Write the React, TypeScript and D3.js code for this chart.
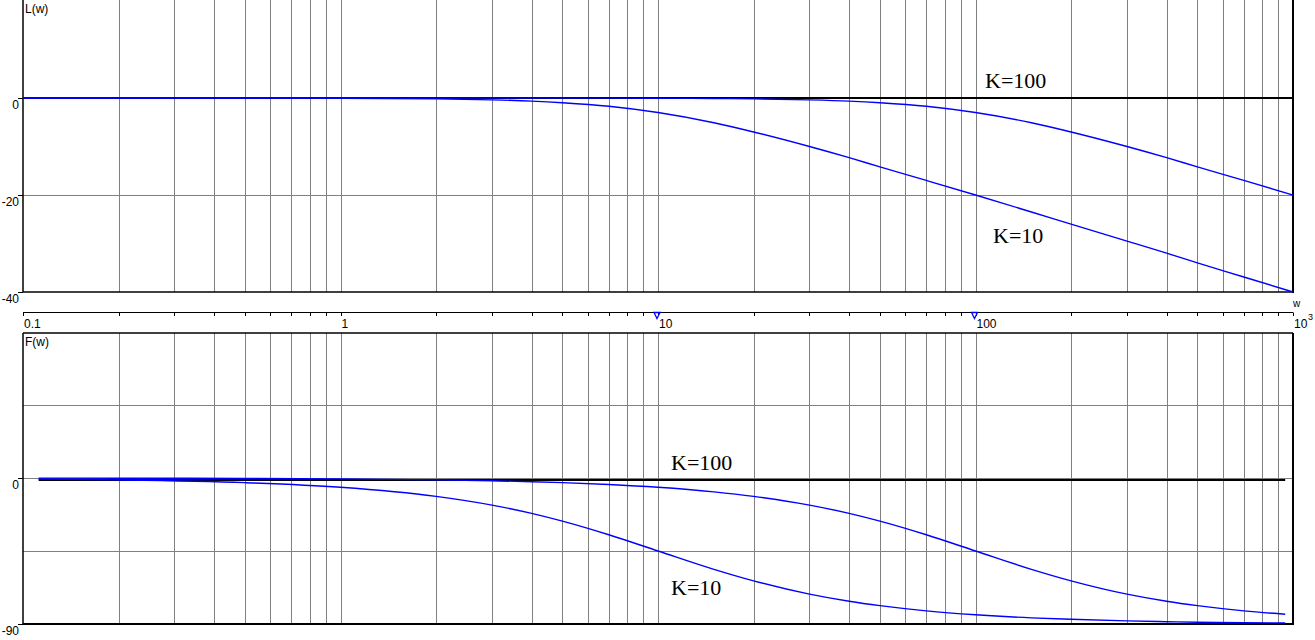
import React from "react";
import * as d3 from "d3";

// ---- data ----
const wMag = [0.1, 0.2, 0.5, 1, 2, 3, 4, 5, 7, 10, 15, 20, 30, 40, 50, 70, 100, 150, 200, 300, 400, 500, 700, 1000];
const magK10 = [0, 0, -0.01, -0.04, -0.17, -0.38, -0.64, -0.97, -1.7, -3.0, -5.1, -7.0, -10.0, -12.3, -14.2, -17.0, -20.0, -23.5, -26.0, -29.5, -32.0, -34.0, -36.9, -40.0];
const magK100 = [0, 0, 0, 0, 0, 0, 0, -0.01, -0.02, -0.04, -0.1, -0.17, -0.38, -0.64, -0.97, -1.7, -3.0, -5.1, -7.0, -10.0, -12.3, -14.2, -17.0, -20.0];

const wPh = [0.112, 0.2, 0.5, 1, 2, 3, 4, 5, 7, 10, 15, 20, 30, 40, 50, 70, 100, 150, 200, 300, 400, 500, 700, 945];
const phK10 = [-0.64, -1.15, -2.86, -5.71, -11.3, -16.7, -21.8, -26.6, -35.0, -45.0, -56.3, -63.4, -71.6, -76.0, -78.7, -81.9, -84.3, -86.2, -87.1, -88.1, -88.6, -88.9, -89.2, -89.4];
const phK100 = [-0.06, -0.11, -0.29, -0.57, -1.15, -1.72, -2.29, -2.86, -4.0, -5.71, -8.53, -11.3, -16.7, -21.8, -26.6, -35.0, -45.0, -56.3, -63.4, -71.6, -76.0, -78.7, -81.9, -83.96];

const magTicks = [0, -20, -40];
const magGrid = [-20];
const phTicks = [0, -90];
const phGrid = [45, 0, -45];
const decadeLabels = ["0.1", "1", "10", "100"];
const decadeValues = [0.1, 1, 10, 100];
const markerValues = [10, 100];

const W = 1315;
const H = 640;
const X0 = 23;
const X1 = 1293;

export default function App() {
  const x = d3.scaleLog().domain([0.1, 1000]).range([X0, X1]);
  const yMag = d3.scaleLinear().domain([-40, 20]).range([292, 1]);
  const yPh = d3.scaleLinear().domain([-90, 90]).range([624, 332]);

  const gridW: number[] = [];
  for (let d = 0.1; d < 1000; d *= 10) {
    for (let k = 1; k <= 9; k++) {
      const v = +(d * k).toPrecision(3);
      if (v > 0.1 && v < 1000) gridW.push(v);
    }
  }
  const tickW = [0.1, ...gridW, 1000];

  const lineMag = d3
    .line<[number, number]>()
    .x((d) => x(d[0]))
    .y((d) => yMag(d[1]))
    .curve(d3.curveMonotoneX);
  const linePh = d3
    .line<[number, number]>()
    .x((d) => x(d[0]))
    .y((d) => yPh(d[1]))
    .curve(d3.curveMonotoneX);

  const zip = (a: number[], b: number[]) => a.map((v, i) => [v, b[i]] as [number, number]);

  const font = "'Liberation Sans', Arial, sans-serif";
  const serif = "'Liberation Serif', 'Times New Roman', serif";
  const blue = "#0000ff";
  const gray = "#808080";
  const axisY = 312.5;

  return (
    <svg
      width={W}
      height={H}
      style={{ position: "absolute", left: 0, top: 0, background: "#fff" }}
      fontFamily={font}
    >
      {/* ---------- top plot: L(w) ---------- */}
      {gridW.map((v) => (
        <line key={"gt" + v} x1={Math.round(x(v)) + 0.5} x2={Math.round(x(v)) + 0.5} y1={0} y2={292} stroke={gray} strokeWidth={1} />
      ))}
      {magGrid.map((v) => (
        <line key={"hm" + v} x1={X0} x2={X1} y1={Math.round(yMag(v)) + 0.5} y2={Math.round(yMag(v)) + 0.5} stroke={gray} strokeWidth={1} />
      ))}
      <line x1={X0} x2={X1} y1={yMag(0)} y2={yMag(0)} stroke="#000" strokeWidth={2} />
      <line x1={X0} x2={X1} y1={292} y2={292} stroke="#000" strokeWidth={1.5} />
      <line x1={X0} x2={X0} y1={0} y2={292} stroke="#000" strokeWidth={1.5} />
      <line x1={X1} x2={X1} y1={0} y2={293} stroke="#000" strokeWidth={2} />
      {magTicks.map((v) => (
        <g key={"mt" + v}>
          <line x1={18} x2={X0} y1={Math.round(yMag(v)) + 0.5} y2={Math.round(yMag(v)) + 0.5} stroke="#000" strokeWidth={1} />
          <text x={19} y={yMag(v) + 11} fontSize={12} textAnchor="end" fill="#000">
            {v}
          </text>
        </g>
      ))}
      <text x={25} y={13} fontSize={12} fill="#000">L(w)</text>
      <path d={lineMag(zip(wMag, magK10)) || ""} fill="none" stroke={blue} strokeWidth={1.4} />
      <path d={lineMag(zip(wMag, magK100)) || ""} fill="none" stroke={blue} strokeWidth={1.4} />
      <text x={985} y={88} fontSize={22} fontFamily={serif} fill="#000">K=100</text>
      <text x={993} y={243} fontSize={22} fontFamily={serif} fill="#000">K=10</text>

      {/* ---------- frequency axis strip ---------- */}
      <line x1={X0} x2={X1} y1={axisY} y2={axisY} stroke="#000" strokeWidth={1} />
      {tickW.map((v) => (
        <line key={"tk" + v} x1={Math.round(x(v)) + 0.5} x2={Math.round(x(v)) + 0.5} y1={axisY} y2={axisY + 3.5} stroke="#000" strokeWidth={1} />
      ))}
      {decadeValues.map((v, i) => (
        <text key={"dl" + v} x={x(v) + 1} y={328} fontSize={12} fill="#000">
          {decadeLabels[i]}
        </text>
      ))}
      <text x={x(1000) + 1} y={328} fontSize={12} fill="#000">10</text>
      <text x={x(1000) + 15} y={320} fontSize={9} fill="#000">3</text>
      <text x={1293} y={307} fontSize={10} fill="#000">w</text>
      {markerValues.map((v) => {
        const cx = x(v) - 1;
        return (
          <path
            key={"mk" + v}
            d={`M${cx - 3},${axisY} L${cx + 3},${axisY} L${cx},${axisY + 6} Z`}
            fill="none"
            stroke={blue}
            strokeWidth={1.3}
          />
        );
      })}

      {/* ---------- bottom plot: F(w) ---------- */}
      {gridW.map((v) => (
        <line key={"gb" + v} x1={Math.round(x(v)) + 0.5} x2={Math.round(x(v)) + 0.5} y1={333} y2={624} stroke={gray} strokeWidth={1} />
      ))}
      {phGrid.map((v) => (
        <line key={"hp" + v} x1={X0} x2={X1} y1={Math.round(yPh(v)) + 0.5} y2={Math.round(yPh(v)) + 0.5} stroke={gray} strokeWidth={1} />
      ))}
      <line x1={x(wPh[0])} x2={x(wPh[wPh.length - 1])} y1={yPh(0) + 2} y2={yPh(0) + 2} stroke="#000" strokeWidth={2} />
      <line x1={X0} x2={X1} y1={333} y2={333} stroke="#000" strokeWidth={1.5} />
      <line x1={X0} x2={X1 + 1} y1={624} y2={624} stroke="#000" strokeWidth={2} />
      <line x1={X0} x2={X0} y1={333} y2={625} stroke="#000" strokeWidth={1.5} />
      <line x1={X1} x2={X1} y1={333} y2={625} stroke="#000" strokeWidth={2} />
      {phTicks.map((v) => (
        <g key={"pt" + v}>
          <line x1={18} x2={X0} y1={Math.round(yPh(v)) + 0.5} y2={Math.round(yPh(v)) + 0.5} stroke="#000" strokeWidth={1} />
          <text x={19} y={yPh(v) + 11} fontSize={12} textAnchor="end" fill="#000">
            {v}
          </text>
        </g>
      ))}
      <text x={25} y={346} fontSize={12} fill="#000">F(w)</text>
      <path d={linePh(zip(wPh, phK10)) || ""} fill="none" stroke={blue} strokeWidth={1.4} />
      <path d={linePh(zip(wPh, phK100)) || ""} fill="none" stroke={blue} strokeWidth={1.4} />
      <text x={671} y={470} fontSize={22} fontFamily={serif} fill="#000">K=100</text>
      <text x={671} y={595} fontSize={22} fontFamily={serif} fill="#000">K=10</text>
    </svg>
  );
}
